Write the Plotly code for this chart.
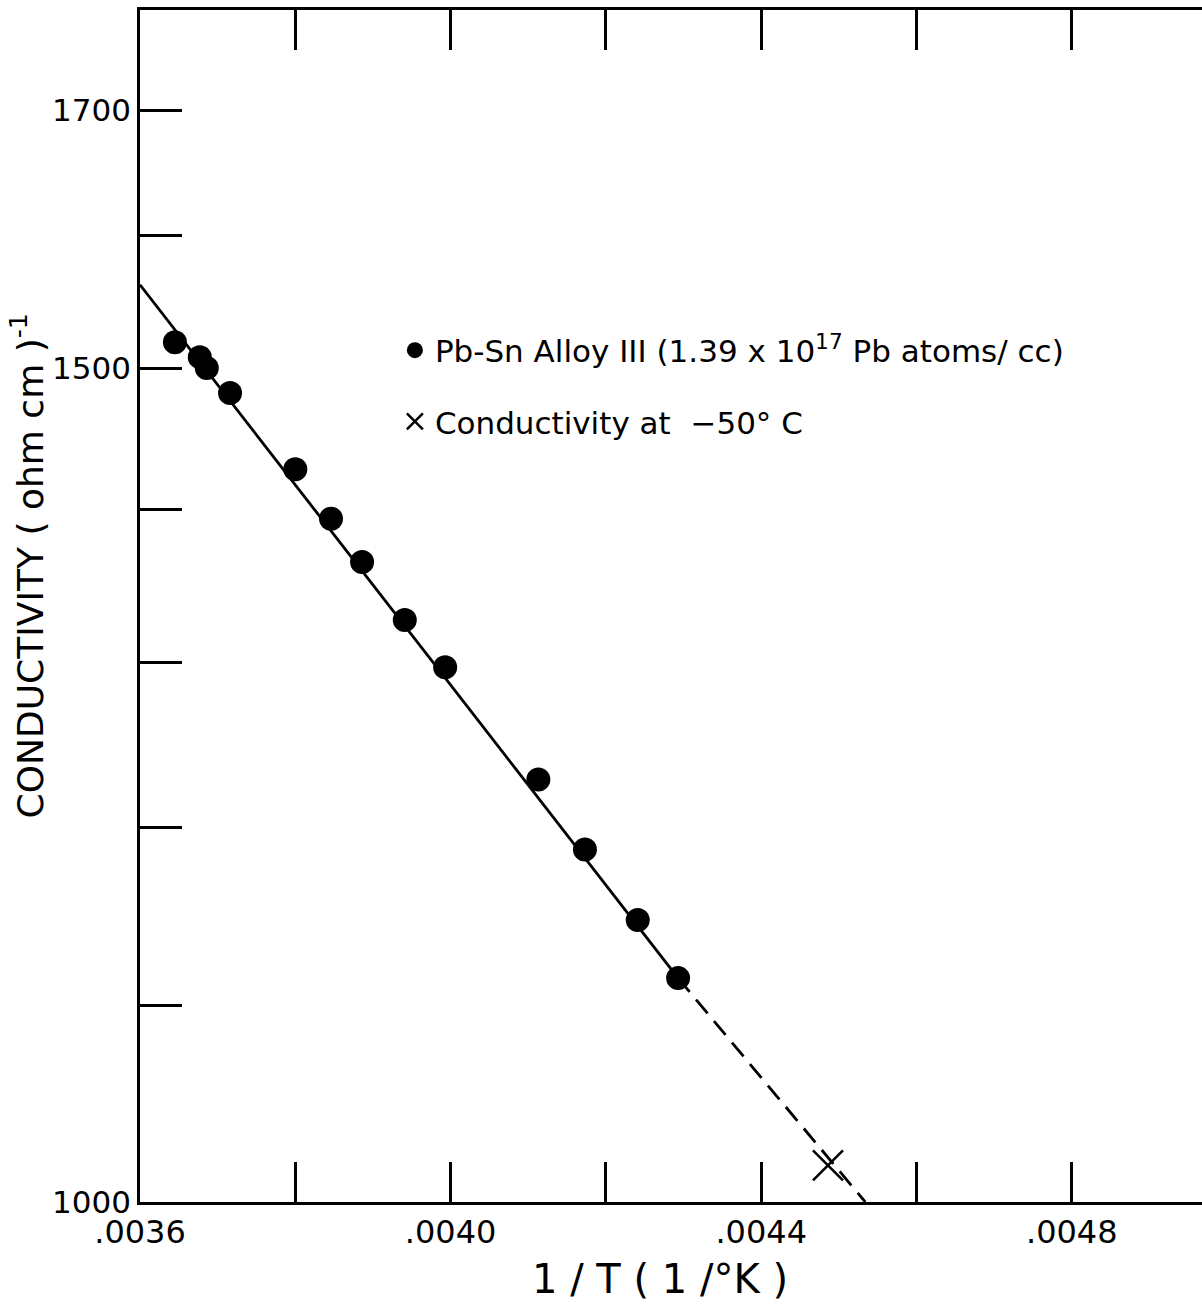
import plotly.graph_objects as go

# Data
inv_T = [0.003645, 0.003677, 0.003686, 0.003716, 0.003800, 0.003846, 0.003886,
         0.003941, 0.003993, 0.004113, 0.004173, 0.004241, 0.004293]
conductivity = [1519, 1508, 1500, 1482, 1428, 1394, 1365, 1327, 1297, 1228, 1187, 1147, 1115]

cold_x = [0.004486]
cold_y = [1018]

fit_x = [0.0036, 0.004293]
fit_y = [1562, 1115]
ext_x = [0.004293, 0.004534]
ext_y = [1115, 1000]

x_tickvals = [0.0036, 0.0038, 0.0040, 0.0042, 0.0044, 0.0046, 0.0048]
x_ticktext = [".0036", "", ".0040", "", ".0044", "", ".0048"]
y_tickvals = [1000, 1100, 1200, 1300, 1400, 1500, 1600, 1700]
y_ticktext = ["1000", "", "", "", "", "1500", "", "1700"]

FONT = "DejaVu Sans"

fig = go.Figure()
fig.add_trace(go.Scatter(x=fit_x, y=fit_y, mode="lines",
                         line=dict(color="black", width=2.8), showlegend=False))
fig.add_trace(go.Scatter(x=ext_x, y=ext_y, mode="lines",
                         line=dict(color="black", width=2.8, dash="18px,10px"), showlegend=False))
fig.add_trace(go.Scatter(x=inv_T, y=conductivity, mode="markers",
                         marker=dict(symbol="circle", size=24, color="black"),
                         legendgroup="a",
                         name="Pb-Sn Alloy III (1.39 x 10<sup>17</sup> Pb atoms/ cc)"))
fig.add_trace(go.Scatter(x=cold_x, y=cold_y, mode="markers",
                         marker=dict(symbol="x-thin-open", size=30, color="black",
                                     line=dict(color="black", width=2.5)),
                         legendgroup="b",
                         name="Conductivity at  \u221250\u00b0 C"))

fig.update_layout(
    width=1202, height=1306,
    margin=dict(l=140, r=0, t=10, b=104),
    paper_bgcolor="white", plot_bgcolor="white",
    font=dict(family=FONT, color="black", size=28),
    legend=dict(x=0.24, y=0.737, xanchor="left", yanchor="top",
                bgcolor="rgba(0,0,0,0)", font=dict(size=31, family=FONT),
                traceorder="grouped", tracegroupgap=28, itemsizing="trace"),
    annotations=[
        dict(text="CONDUCTIVITY ( ohm cm )<sup>-1</sup>", textangle=-90,
             xref="paper", yref="paper", x=-0.106, y=0.5336,
             xanchor="center", yanchor="middle", showarrow=False,
             font=dict(size=36, family=FONT)),
        dict(text="1 / T ( 1 /\u00b0K )",
             xref="paper", yref="paper", x=0.49, y=-0.065,
             xanchor="center", yanchor="middle", showarrow=False,
             font=dict(size=40, family=FONT)),
    ],
)

fig.update_xaxes(
    range=[0.0036, 0.0049677], tickvals=x_tickvals, ticktext=x_ticktext,
    ticks="inside", ticklen=40, tickwidth=2.8, tickcolor="black",
    showline=True, linecolor="black", linewidth=2.8, mirror="ticks",
    showgrid=False, zeroline=False, tickfont=dict(size=32, family=FONT),
)
fig.update_yaxes(
    type="log", range=[3, 3.2517], tickvals=y_tickvals, ticktext=y_ticktext,
    ticks="inside", ticklen=42, tickwidth=2.8, tickcolor="black",
    showline=True, linecolor="black", linewidth=2.8, mirror=False,
    showgrid=False, zeroline=False, tickfont=dict(size=31, family=FONT),
)

fig.write_html("out.html")
